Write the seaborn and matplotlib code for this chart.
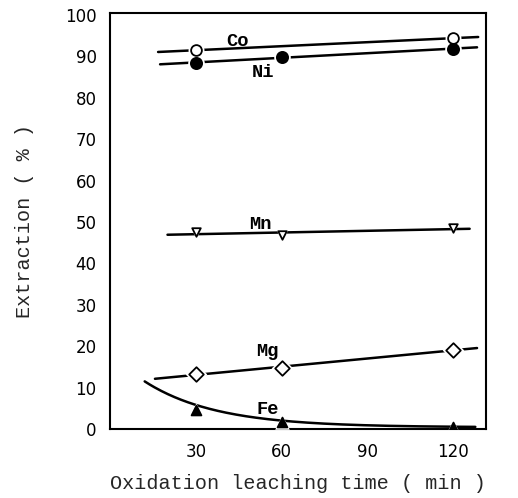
import numpy as np
import pandas as pd
import matplotlib
matplotlib.use("Agg")
import matplotlib.pyplot as plt
import seaborn as sns

# Extraction (%) of each metal vs oxidation leaching time (min)
times = [30, 60, 120]
co = [91.5, None, 94.4]
ni = [88.4, 89.9, 91.8]
mn = [47.5, 46.8, 48.5]
mg = [13.3, 14.7, 19.1]
fe = [4.6, 1.7, 0.5]

x_ticks = [30, 60, 90, 120]
y_ticks = [0, 10, 20, 30, 40, 50, 60, 70, 80, 90, 100]

# Decay model for the Fe trend: floor + amp * exp(-rate * (t - 30))
fe_floor, fe_amp, fe_rate = 0.4, 5.4, 0.04

sns.set_theme(style="white")
plt.rcParams["font.family"] = ["Liberation Mono", "DejaVu Sans"]

fig = plt.figure(figsize=(5.18, 4.98), dpi=100)
ax = fig.add_axes([0.2133, 0.1386, 0.7247, 0.8354])

def trend(t, v, lo, hi):
    t = np.array([a for a, b in zip(t, v) if b is not None], float)
    v = np.array([b for b in v if b is not None], float)
    k, b = np.polyfit(t, v, 1)
    xs = np.linspace(lo, hi, 50)
    return pd.DataFrame({"t": xs, "v": k * xs + b})

lines = [
    (co, 16.7, 129.0),
    (ni, 17.4, 128.6),
    (mn, 20.0, 126.0),
    (mg, 15.6, 128.6),
]
for vals, lo, hi in lines:
    d = trend(times, vals, lo, hi)
    sns.lineplot(data=d, x="t", y="v", ax=ax, color="black", lw=1.8, zorder=2)

xs = np.linspace(12, 128, 200)
fe_df = pd.DataFrame({"t": xs, "v": fe_floor + fe_amp * np.exp(-fe_rate * (xs - 30))})
sns.lineplot(data=fe_df, x="t", y="v", ax=ax, color="black", lw=1.8, zorder=2)

def pts(v):
    return pd.DataFrame({"t": [a for a, b in zip(times, v) if b is not None],
                         "v": [b for b in v if b is not None]})

style = [
    (co, "o", "white", 60),
    (ni, "o", "black", 65),
    (mn, "v", "white", 38),
    (mg, "D", "white", 55),
    (fe, "^", "black", 50),
]
for vals, m, fc, s in style:
    d = pts(vals)
    # white halo to break the line around each marker
    sns.scatterplot(data=d, x="t", y="v", ax=ax, marker=m, s=s * 2.2,
                    color="white", edgecolor="white", linewidth=0, zorder=3)
    sns.scatterplot(data=d, x="t", y="v", ax=ax, marker=m, s=s,
                    color=fc, edgecolor="black", linewidth=1.3, zorder=4)

labels = [("Co", 44.7, 93.5), ("Ni", 53.5, 86.2), ("Mn", 52.5, 49.3),
          ("Mg", 54.9, 18.6), ("Fe", 55.3, 4.6)]
for txt, x, y in labels:
    ax.text(x, y, txt, ha="center", va="center", fontsize=13.5,
            fontweight="bold", color="black", zorder=5)

ax.set_xlim(0, 131.7)
ax.set_ylim(0, 100.5)
ax.set_xticks(x_ticks)
ax.set_yticks(y_ticks)
ax.tick_params(direction="in", length=8, width=1.3, colors="black",
               labelsize=12, pad=10)
for lab in ax.get_xticklabels() + ax.get_yticklabels():
    lab.set_family("DejaVu Sans")
for sp in ax.spines.values():
    sp.set_color("black")
    sp.set_linewidth(1.5)
ax.set_xlabel("Oxidation leaching time ( min )", fontsize=14.5, labelpad=9.5)
ax.set_ylabel("Extraction ( % )", fontsize=14.5, labelpad=22)

fig.savefig("out.png", dpi=100)
